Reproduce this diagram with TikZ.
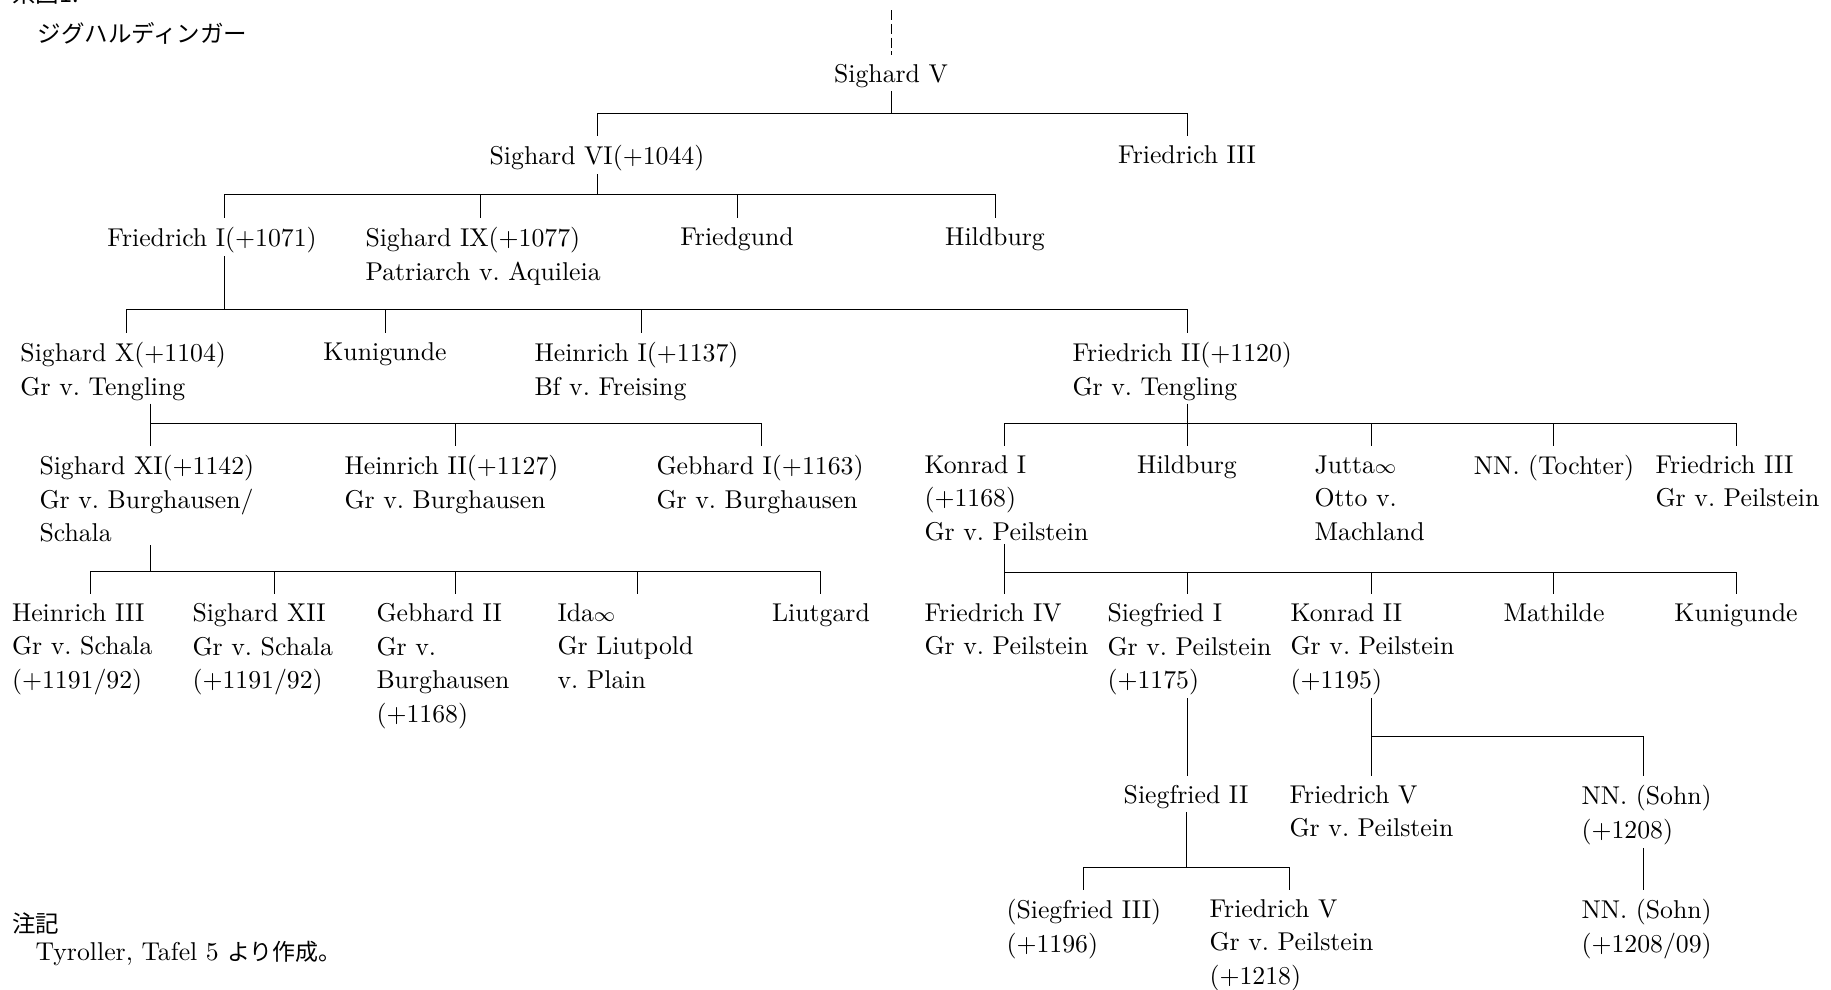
\documentclass[tikz,border=0pt]{standalone}
\usepackage{fontspec}
\newfontfamily\jpfont{Noto Sans CJK JP}
\usepackage{tikz}
\frenchspacing
\tikzset{
    person element/.style={
        anchor=north west,align=left,inner sep=0pt,
        font=\fontsize{10.3}{13.4}\selectfont
    },
    centred element/.style={person element,anchor=north},
    jp element/.style={
        anchor=west,inner sep=0pt,
        font=\fontsize{9.4}{12}\selectfont\jpfont
    },
    stem line/.style={thin,shorten <=1pt},
    drop line/.style={thin,shorten >=3.6pt}
}
\newcommand{\married}{{\fontsize{8.5}{10}\selectfont$\infty$}}

\begin{document}
\begin{tikzpicture}[x=0.4pt,y=-0.4pt]
\useasboundingbox (0,0) rectangle (1831,989);
\clip (0,0) rectangle (1831,989);

\node[jp element] (title) at (12,-6) {系図1:};
\node[jp element] (subtitle) at (37,33) {ジグハルディンガー};
\node[jp element] (notehead) at (12,923) {注記};
\node[jp element,font=\fontsize{10.3}{12}\selectfont] (note) at (35,953)
    {Tyroller, Tafel 5 {\jpfont\fontsize{9.2}{12}\selectfont より作成。}};

% generation 1
\coordinate (root) at (891,10);
\node[centred element] (sV) at (891,64) {Sighard V};
\draw[drop line,dash pattern=on 4pt off 1.5pt] (root) -- (sV.north);

% generation 2
\node[centred element] (sVI) at (597,145) {Sighard VI(+1044)};
\node[centred element] (fIII) at (1187,145) {Friedrich III};
\draw[stem line] (sV.south) -- (891,113);
\draw[thin] (597,113) -- (1187,113);
\foreach \name/\x in {sVI/597,fIII/1187}
    \draw[drop line] (\x,113) -- (\name.north -| \x,0);

% generation 3
\node[centred element] (fI) at (212,227) {Friedrich I(+1071)};
\node[person element] (sIX) at (365,227) {Sighard IX(+1077)\\Patriarch v. Aquileia};
\node[centred element] (friedgund) at (737,227) {Friedgund};
\node[centred element] (hildA) at (995,227) {Hildburg};
\draw[stem line] (sVI.south) -- (597,194);
\draw[thin] (224,194) -- (995,194);
\foreach \name/\x in {fI/224,sIX/480,friedgund/737,hildA/995}
    \draw[drop line] (\x,194) -- (\name.north -| \x,0);

% generation 4
\node[person element] (sX) at (20,342) {Sighard X(+1104)\\Gr v. Tengling};
\node[centred element] (kunA) at (385,342) {Kunigunde};
\node[person element] (hI) at (534,342) {Heinrich I(+1137)\\Bf v. Freising};
\node[person element] (fII) at (1072,342) {Friedrich II(+1120)\\Gr v. Tengling};
\draw[stem line] (fI.south -| 224,0) -- (224,309);
\draw[thin] (126,309) -- (1187,309);
\foreach \name/\x in {sX/126,kunA/385,hI/641,fII/1187}
    \draw[drop line] (\x,309) -- (\name.north -| \x,0);

% generation 5
\foreach \name/\x/\txt in {sXI/39/{Sighard XI(+1142)\\Gr v. Burghausen/\\Schala},
        hII/344/{Heinrich II(+1127)\\Gr v. Burghausen},
        gI/656/{Gebhard I(+1163)\\Gr v. Burghausen},
        kI/924/{Konrad I\\(+1168)\\Gr v. Peilstein},
        jutta/1314/{Jutta\married\\Otto v.\\Machland},
        fIIIp/1655/{Friedrich III\\Gr v. Peilstein}}
    \node[person element] (\name) at (\x,455) {\txt};
\node[centred element] (hildB) at (1187,455) {Hildburg};
\node[centred element] (nnT) at (1554,455) {NN. (Tochter)};
\draw[stem line] (sX.south -| 150,0) -- (150,423);
\draw[thin] (150,423) -- (761,423);
\foreach \name/\x in {sXI/150,hII/455,gI/761}
    \draw[drop line] (\x,423) -- (\name.north -| \x,0);
\draw[stem line] (fII.south -| 1187,0) -- (1187,423);
\draw[thin] (1004,423) -- (1736,423);
\foreach \name/\x in {kI/1004,hildB/1187,jutta/1371,nnT/1553,fIIIp/1736}
    \draw[drop line] (\x,423) -- (\name.north -| \x,0);

% generation 6
\foreach \name/\x/\txt in {hIII/11.5/{Heinrich III\\Gr v. Schala\\(+1191/92)},
        sXII/192/{Sighard XII\\Gr v. Schala\\(+1191/92)},
        gII/376/{Gebhard II\\Gr v.\\Burghausen\\(+1168)},
        ida/557/{Ida\married\\Gr Liutpold\\v. Plain},
        fIV/924/{Friedrich IV\\Gr v. Peilstein},
        siI/1107/{Siegfried I\\Gr v. Peilstein\\(+1175)},
        kII/1290/{Konrad II\\Gr v. Peilstein\\(+1195)}}
    \node[person element] (\name) at (\x,603) {\txt};
\node[centred element] (liutgard) at (821,603) {Liutgard};
\node[centred element] (mathilde) at (1554,603) {Mathilde};
\node[centred element] (kunB) at (1736,603) {Kunigunde};
\draw[stem line] (sXI.south -| 150,0) -- (150,571);
\draw[thin] (90,571) -- (820,571);
\foreach \name/\x in {hIII/90,sXII/274,gII/455,ida/637,liutgard/820}
    \draw[drop line] (\x,571) -- (\name.north -| \x,0);
\draw[stem line] (kI.south -| 1004,0) -- (1004,572);
\draw[thin] (1004,572) -- (1736,572);
\foreach \name/\x in {fIV/1004,siI/1187,kII/1371,mathilde/1553,kunB/1736}
    \draw[drop line] (\x,572) -- (\name.north -| \x,0);

% generation 7
\node[centred element] (siII) at (1186,785) {Siegfried II};
\node[person element] (fV) at (1289,785) {Friedrich V\\Gr v. Peilstein};
\node[person element] (nnA) at (1581,785) {NN. (Sohn)\\(+1208)};
\draw[stem line,drop line] (siI.south -| 1187,0) -- (siII.north -| 1187,0);
\draw[stem line] (kII.south -| 1371,0) -- (1371,736);
\draw[thin] (1371,736) -- (1643,736);
\foreach \name/\x in {fV/1371,nnA/1643}
    \draw[drop line] (\x,736) -- (\name.north -| \x,0);

% generation 8
\node[person element] (siIII) at (1006,899) {(Siegfried III)\\(+1196)};
\node[person element] (fVb) at (1209,899) {Friedrich V\\Gr v. Peilstein\\(+1218)};
\node[person element] (nnB) at (1581,899) {NN. (Sohn)\\(+1208/09)};
\draw[stem line] (siII.south -| 1186,0) -- (1186,867);
\draw[thin] (1083,867) -- (1289,867);
\foreach \name/\x in {siIII/1083,fVb/1289}
    \draw[drop line] (\x,867) -- (\name.north -| \x,0);
\draw[stem line,drop line] (nnA.south -| 1643,0) -- (nnB.north -| 1643,0);
\end{tikzpicture}
\end{document}
